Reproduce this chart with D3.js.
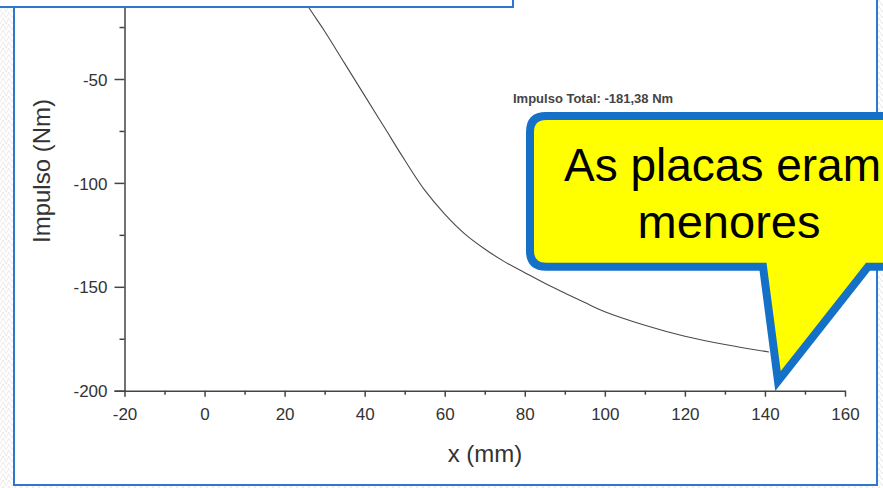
<!DOCTYPE html>
<html>
<head>
<meta charset="utf-8">
<script src="https://cdn.jsdelivr.net/npm/d3@7"></script>
<style>
  body { margin: 0; background: #fff; }
  svg { display: block; }
</style>
</head>
<body>
<div id="chart"></div>
<script>
// curve: position x (mm) -> impulso (Nm)
var xValues = [22, 26, 30, 35, 40, 45, 50, 55, 60, 65, 70, 75, 80, 85, 90, 95, 100, 110, 120, 130, 141];
var impulso = [-3, -15.5, -27, -42.5, -58, -73.5, -89, -103.5, -115, -124.5, -131.8, -138, -143.2, -148.3, -153, -157.6, -162, -168.5, -173.8, -177.8, -181.38];
var xTicks = [-20, 0, 20, 40, 60, 80, 100, 120, 140, 160];
var yTicks = [-200, -150, -100, -50];
var xMinor = [-10, 10, 30, 50, 70, 90, 110, 130, 150];
var yMinor = [-175, -125, -75, -25];

var width = 883, height = 488,
    blue = "#2C78CE",
    font = "'Liberation Sans', Arial, sans-serif";

var svg = d3.select("#chart").append("svg")
  .attr("width", width)
  .attr("height", height);

// light hatch outside the slide frame
var pat = svg.append("defs").append("pattern")
  .attr("id", "hatch")
  .attr("patternUnits", "userSpaceOnUse")
  .attr("width", 6).attr("height", 6);
pat.append("path")
  .attr("d", "M0,6 L3,0 L6,6")
  .attr("fill", "none")
  .attr("stroke", "#ebebeb")
  .attr("stroke-width", 1);

svg.append("rect").attr("width", width).attr("height", height).attr("fill", "url(#hatch)");
svg.append("rect")
  .attr("x", 14).attr("y", 0)
  .attr("width", 877 - 14).attr("height", 485)
  .attr("fill", "#fff");

var x = d3.scaleLinear().domain([-20, 160]).range([124.5, 845]);
var y = d3.scaleLinear().domain([-200, 0]).range([390.7, -24.9]);

var plot = svg.append("g");

// the curve
plot.append("path")
  .datum(xValues.map(function(d, i) { return [d, impulso[i]]; }))
  .attr("fill", "none")
  .attr("stroke", "#4a4a4a")
  .attr("stroke-width", 1.1)
  .attr("d", d3.line()
    .x(function(d) { return x(d[0]); })
    .y(function(d) { return y(d[1]); })
    .curve(d3.curveCatmullRom.alpha(0.5)));

// y axis, major + minor ticks
var yAxis = plot.append("g")
  .attr("transform", "translate(" + x(-20) + ",0)")
  .call(d3.axisLeft(y).tickValues(yTicks).tickSize(10).tickPadding(7)
    .tickFormat(function(d) { return String(d); }));
plot.append("g")
  .attr("transform", "translate(" + x(-20) + ",0)")
  .call(d3.axisLeft(y).tickValues(yMinor).tickSize(5).tickFormat(""))
  .select(".domain").remove();

// x axis
var xAxis = plot.append("g")
  .attr("transform", "translate(0," + y(-200) + ")")
  .call(d3.axisBottom(x).tickValues(xTicks).tickSize(6).tickPadding(11).tickSizeOuter(0)
    .tickFormat(function(d) { return String(d); }));
plot.append("g")
  .attr("transform", "translate(0," + y(-200) + ")")
  .call(d3.axisBottom(x).tickValues(xMinor).tickSize(4).tickFormat(""))
  .select(".domain").remove();

plot.selectAll(".domain, .tick line")
  .attr("stroke", "#444")
  .attr("stroke-width", 1.5);
plot.selectAll(".tick text")
  .attr("fill", "#333")
  .style("font-family", font)
  .style("font-size", "17px");
yAxis.selectAll(".tick text").attr("dy", "0.36em");

// axis titles
svg.append("text")
  .attr("transform", "translate(50,171) rotate(-90)")
  .attr("text-anchor", "middle")
  .attr("fill", "#333")
  .style("font-family", font)
  .style("font-size", "24px")
  .text("Impulso (Nm)");

svg.append("text")
  .attr("x", 485).attr("y", 462)
  .attr("text-anchor", "middle")
  .attr("fill", "#333")
  .style("font-family", font)
  .style("font-size", "24px")
  .text("x (mm)");

svg.append("text")
  .attr("x", 513).attr("y", 103.3)
  .attr("fill", "#444")
  .style("font-family", font)
  .style("font-size", "13px")
  .style("font-weight", "bold")
  .text("Impulso Total: -181,38 Nm");

// slide frame
svg.append("path")
  .attr("d", "M14,0 V485 H877 V0")
  .attr("fill", "none")
  .attr("stroke", blue)
  .attr("stroke-width", 2);

// the cut off box on top
svg.append("rect")
  .attr("x", -5).attr("y", -30)
  .attr("width", 518).attr("height", 37)
  .attr("fill", "#fff")
  .attr("stroke", blue)
  .attr("stroke-width", 2);

// callout
var callout = svg.append("g");
callout.append("path")
  .attr("d", "M546,116 H940 V266.7 H868 L778,381 L763,266.7 H546 Q530,266.7 530,250.7 V132 Q530,116 546,116 Z")
  .attr("fill", "#FFFF00")
  .attr("stroke", "#1570C8")
  .attr("stroke-width", 8)
  .attr("stroke-linejoin", "miter");

callout.append("text")
  .attr("x", 564).attr("y", 180.7)
  .attr("fill", "#000")
  .style("font-family", font)
  .style("font-size", "46px")
  .text("As placas eram");

callout.append("text")
  .attr("x", 729).attr("y", 238.3)
  .attr("text-anchor", "middle")
  .attr("fill", "#000")
  .style("font-family", font)
  .style("font-size", "47px")
  .text("menores");
</script>
</body>
</html>
